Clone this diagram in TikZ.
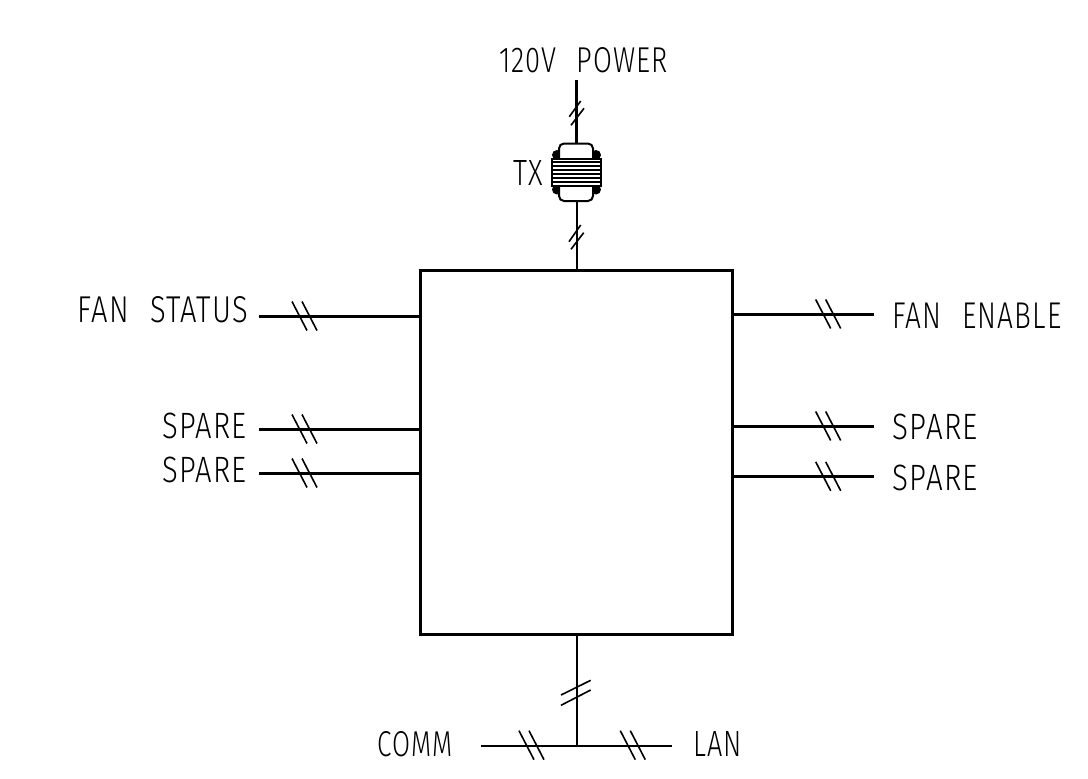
\documentclass[tikz,border=0pt]{standalone}
\usepackage{fontspec}
\setmainfont{Fira Sans Light}
\newcommand{\fitlabel}[3]{\resizebox{#1pt}{#2pt}{\addfontfeature{LetterSpace=4}#3}}
\newcommand{\wgap}{\hspace{0.42em} }
\tikzset{
  label text/.style={inner sep=0pt,outer sep=0pt,text=black},
  heavy/.style={line width=3pt},
  medium/.style={line width=2pt},
  tickline/.style={line width=1.6pt},
  hticks/.pic={\draw[tickline] (-7.5,-14.5)--(7.5,14.5) (2.5,-14.5)--(17.5,14.5);},
  blob/.style={fill=black,draw=none},
}
\begin{document}
\begin{tikzpicture}[x=1pt,y=-1pt]
\useasboundingbox (0,0) rectangle (1088,779);
% main box
\node[draw,heavy,minimum width=312.4pt,minimum height=364.8pt,inner sep=0pt] (ctrl) at (576.7,452.4) {};
% labels
\node[label text] (power) at (583.5,60.5) {\fitlabel{169}{25}{120V\wgap POWER}};
\node[label text] (txl) at (527.8,172.5) {\fitlabel{29.5}{25}{TX}};
\node[label text] (fstat) at (163,310) {\fitlabel{170}{26}{FAN\wgap STATUS}};
\node[label text] (sl1) at (204.7,425.5) {\fitlabel{84}{25.5}{SPARE}};
\node[label text] (sl2) at (204.7,470) {\fitlabel{84}{25.5}{SPARE}};
\node[label text] (fen) at (977.2,315.5) {\fitlabel{169}{25.5}{FAN\wgap ENABLE}};
\node[label text] (sr1) at (935.3,427) {\fitlabel{85}{25.5}{SPARE}};
\node[label text] (sr2) at (935.3,477.5) {\fitlabel{85}{25.5}{SPARE}};
\node[label text] (comm) at (414.8,744) {\fitlabel{75}{25}{COMM}};
\node[label text] (lan) at (717.5,744) {\fitlabel{48.5}{25}{LAN}};
% free ends
\coordinate (a1) at (259,316);
\coordinate (a2) at (259,429);
\coordinate (a3) at (259,473);
\coordinate (b1) at (874,314);
\coordinate (b2) at (874,426);
\coordinate (b3) at (874,476.3);
\coordinate (pw) at (576.7,80);
\coordinate (junction) at (576.7,745.7);
\coordinate (cl) at (480.7,745.7);
\coordinate (lr) at (672.3,745.7);
% transformer
\coordinate (txtop) at (576.7,143.5);
\coordinate (txbot) at (576.7,201);
\foreach \cx/\cy in {557/155,596/155,557/189.5,596/189.5}
  \fill[blob] (\cx,\cy) circle (5pt);
\fill[white] (559.8,144.3) rectangle (592.2,158);
\fill[white] (559.8,186.5) rectangle (592.2,200.2);
\draw[line width=2pt,rounded corners=5pt] (559,158.5) -- (559,143.5) -- (593,143.5) -- (593,158.5);
\draw[line width=2pt,rounded corners=5pt] (559,186) -- (559,201) -- (593,201) -- (593,186);
\node[draw,line width=2pt,fill=white,minimum width=49.5pt,minimum height=27.5pt,inner sep=0pt] (core) at (576.3,172.3) {};
\foreach \yy in {162.4,166.4,170.4,174.4,178.4,182.4}
  \draw[line width=2.1pt] (551.5,\yy) -- (601,\yy);
% connectors
\foreach \c in {a1,a2,a3}
  \draw[heavy] (\c) -- (\c -| ctrl.west);
\foreach \c in {b1,b2,b3}
  \draw[heavy] (\c) -- (\c -| ctrl.east);
\draw[heavy] (pw) -- (txtop);
\draw[medium] (txbot) -- (txbot |- ctrl.north);
\draw[medium] (ctrl.south) -- (junction);
\draw[medium] (cl) -- (lr);
% slash marks
\foreach \yy in {316,429,473}
  \pic at (299.5,\yy) {hticks};
\foreach \yy in {314,426,476.3}
  \pic at (823.2,\yy) {hticks};
\pic at (526.5,745.2) {hticks};
\pic at (627.8,745.2) {hticks};
\draw[tickline] (569.3,116.7) -- (580.7,101) (571,125.3) -- (584,108.3);
\draw[tickline] (569,241.7) -- (580.7,225) (571,249.3) -- (583.7,232.7);
\draw[tickline] (561,695) -- (590.7,680.3) (561,705.3) -- (590.7,690);
\end{tikzpicture}
\end{document}
